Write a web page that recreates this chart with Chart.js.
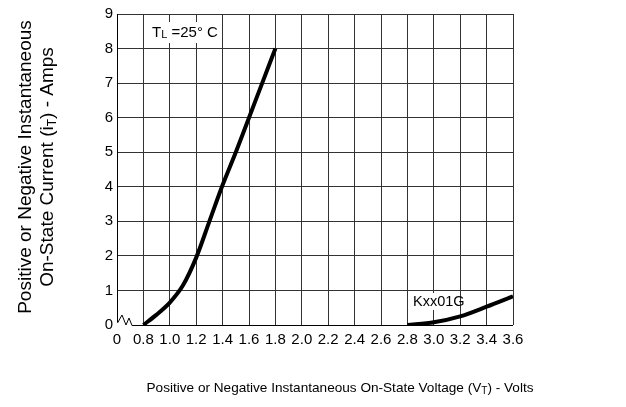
<!DOCTYPE html>
<html><head><meta charset="utf-8">
<script src="https://cdn.jsdelivr.net/npm/chart.js@4"></script>
<style>html,body{margin:0;padding:0;background:#fff}</style>
</head><body>
<canvas id="c" width="626" height="407"></canvas>
<script>
// ---- data ----
const xTickValues = [0.6,0.8,1.0,1.2,1.4,1.6,1.8,2.0,2.2,2.4,2.6,2.8,3.0,3.2,3.4,3.6];
const xTickLabels = ['0','0.8','1.0','1.2','1.4','1.6','1.8','2.0','2.2','2.4','2.6','2.8','3.0','3.2','3.4','3.6'];
const yTickValues = [0,1,2,3,4,5,6,7,8,9];
const curveA_V = [0.8, 0.9, 1.0, 1.1, 1.2, 1.3, 1.4, 1.5, 1.6, 1.7, 1.8];
const curveA_I = [0.0, 0.3, 0.65, 1.15, 1.95, 3.0, 4.05, 5.0, 6.0, 7.0, 8.0];
const curveB_V = [2.8, 3.0, 3.2, 3.4, 3.6];
const curveB_I = [0.0, 0.08, 0.25, 0.53, 0.83];
const yTitle1 = 'Positive or Negative Instantaneous';
const yTitle2 = ['On-State Current (i', 'T', ') - Amps'];
const xTitle = ['Positive or Negative Instantaneous On-State Voltage (V', 'T', ') - Volts'];
const noteTemp = ['T', 'L', ' =25° C'];
const noteDevice = 'Kxx01G';

const FONT = '"Liberation Sans", Arial, sans-serif';

function pts(xs, ys){ return xs.map((x,i)=>({x:x, y:ys[i]})); }

function drawRich(ctx, parts, size, subSize, subDrop){
  let x = 0;
  parts.forEach((p,i)=>{
    const sub = (i % 2 === 1);
    ctx.font = (sub ? subSize : size) + 'px ' + FONT;
    ctx.fillText(p, x, sub ? subDrop : 0);
    x += ctx.measureText(p).width;
  });
  return x;
}
function richWidth(ctx, parts, size, subSize){
  let w = 0;
  parts.forEach((p,i)=>{
    ctx.font = ((i%2===1)? subSize : size) + 'px ' + FONT;
    w += ctx.measureText(p).width;
  });
  return w;
}

const extras = {
  id: 'extras',
  afterDraw(chart){
    const ctx = chart.ctx;
    const left = chart.chartArea.left, bottom = chart.chartArea.bottom;
    ctx.save();
    // bottom axis line with break
    ctx.strokeStyle = '#000';
    ctx.lineWidth = 1;
    ctx.fillStyle = '#fff';
    ctx.fillRect(left - 1, bottom - 3, 16, 4);
    ctx.beginPath();
    ctx.moveTo(left + 0.5, bottom - 2);
    ctx.lineTo(left + 5, bottom - 10);
    ctx.lineTo(left + 9, bottom);
    ctx.lineTo(left + 12, bottom - 7);
    ctx.lineTo(left + 15, bottom + 0.5);
    ctx.lineTo(chart.chartArea.right, bottom + 0.5);
    ctx.stroke();

    // temperature note
    ctx.fillStyle = '#fff';
    ctx.fillRect(147, 22, 75, 21);
    ctx.fillStyle = '#000';
    ctx.textBaseline = 'alphabetic';
    ctx.textAlign = 'left';
    ctx.save(); ctx.translate(152, 37);
    drawRich(ctx, noteTemp, 15, 11, 0.5);
    ctx.restore();

    // device note
    ctx.fillStyle = '#fff';
    ctx.fillRect(410, 293, 48, 17);
    ctx.fillStyle = '#000';
    ctx.font = '14.5px ' + FONT;
    ctx.fillText(noteDevice, 413, 306);

    // y title (rotated)
    ctx.save();
    ctx.translate(31, 167);
    ctx.rotate(-Math.PI/2);
    ctx.font = '19px ' + FONT;
    ctx.textAlign = 'center';
    ctx.fillText(yTitle1, 0, 0);
    ctx.restore();
    ctx.save();
    ctx.translate(53, 167);
    ctx.rotate(-Math.PI/2);
    ctx.textAlign = 'left';
    const w2 = richWidth(ctx, yTitle2, 19, 12);
    ctx.translate(-w2/2, 0);
    drawRich(ctx, yTitle2, 19, 12, 3);
    ctx.restore();

    // x title
    ctx.save();
    ctx.textAlign = 'left';
    const wx = richWidth(ctx, xTitle, 13.6, 10);
    ctx.translate(340 - wx/2, 392);
    drawRich(ctx, xTitle, 13.6, 10, 2);
    ctx.restore();

    ctx.restore();
  }
};

new Chart(document.getElementById('c'), {
  type: 'scatter',
  data: {
    datasets: [
      { data: pts(curveA_V, curveA_I), showLine: true, borderColor: '#000', borderWidth: 4,
        pointRadius: 0, tension: 0.3, fill: false },
      { data: pts(curveB_V, curveB_I), showLine: true, borderColor: '#000', borderWidth: 4,
        pointRadius: 0, tension: 0.3, fill: false }
    ]
  },
  options: {
    responsive: false,
    animation: false,
    events: [],
    layout: { padding: { left: 0, right: 113, top: 14, bottom: 0 } },
    plugins: { legend: { display: false }, tooltip: { enabled: false } },
    scales: {
      x: {
        type: 'linear', min: 0.6, max: 3.6,
        afterBuildTicks: s => { s.ticks = xTickValues.map(v => ({ value: v })); },
        afterFit: s => { s.height = 82; },
        ticks: {
          autoSkip: false, maxRotation: 0, padding: 6, color: '#000',
          font: { family: FONT, size: 15 },
          callback: (v, i) => xTickLabels[i]
        },
        grid: { color: '#333', lineWidth: 1, drawTicks: false },
        border: { display: false }
      },
      y: {
        type: 'linear', min: 0, max: 9,
        afterBuildTicks: s => { s.ticks = yTickValues.map(v => ({ value: v })); },
        afterFit: s => { s.width = 117; },
        ticks: {
          padding: 4, color: '#000',
          font: { family: FONT, size: 15 },
          callback: v => String(v)
        },
        grid: { color: ctx => (ctx.tick && ctx.tick.value === 0) ? 'rgba(0,0,0,0)' : '#333', lineWidth: 1, drawTicks: false },
        border: { display: true, color: '#000', width: 1 }
      }
    }
  },
  plugins: [extras]
});
</script>
</body></html>
